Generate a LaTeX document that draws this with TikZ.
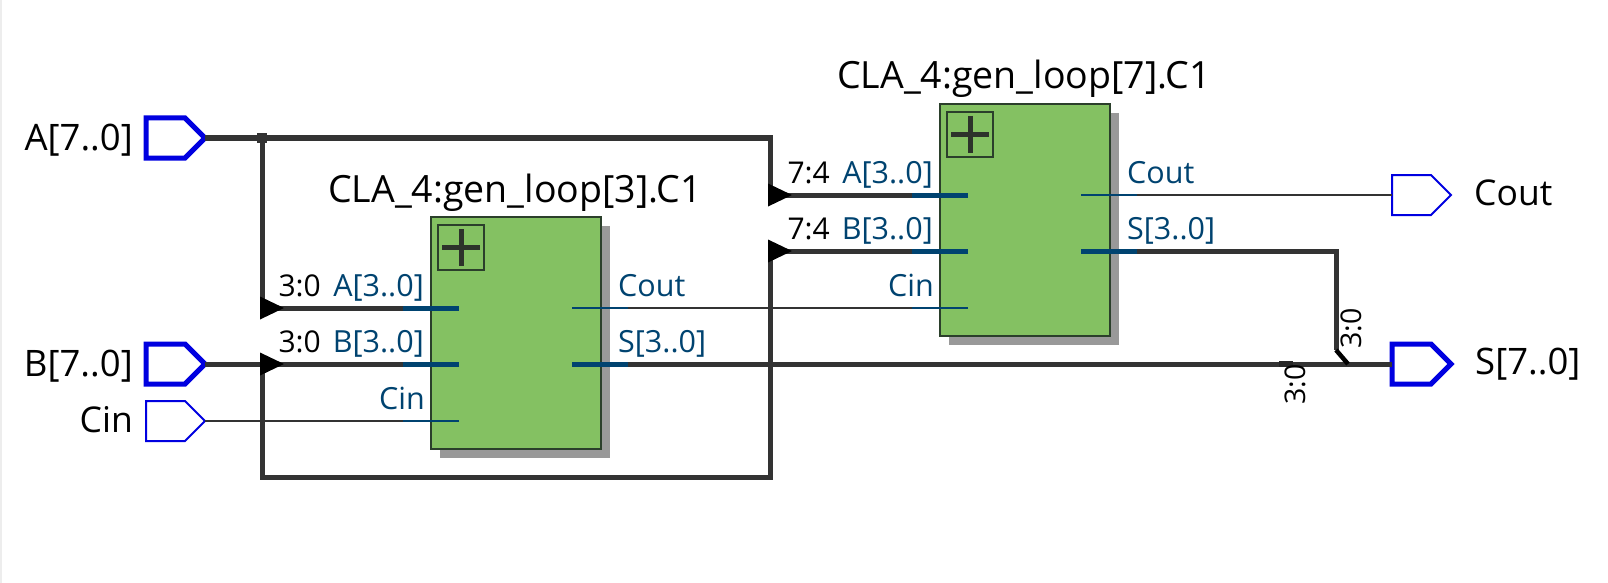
\documentclass[tikz,border=0pt]{standalone}
\usepackage{fontspec}
\setmainfont{Open Sans}
\usetikzlibrary{shapes.symbols}
\definecolor{wirecol}{HTML}{333333}
\definecolor{portcol}{HTML}{004370}
\definecolor{pincol}{HTML}{0000E0}
\definecolor{blockcol}{HTML}{84C162}
\definecolor{blockedge}{HTML}{2B3F2B}
\definecolor{pluscol}{HTML}{2D332B}
\tikzset{
  bus/.style={line width=5pt,color=wirecol},
  wire/.style={line width=2pt,color=wirecol},
  portbus/.style={line width=5pt,color=portcol},
  portwire/.style={line width=2pt,color=portcol},
  blockbox/.style={draw=blockedge,fill=blockcol,line width=2.2pt,minimum width=170pt,minimum height=232pt,inner sep=0pt,outer sep=0pt},
  pinthin/.style={shape=signal,signal to=east,signal pointer angle=90,draw=pincol,fill=white,line width=2pt,minimum width=59pt,minimum height=40pt,inner sep=0pt,outer sep=0pt},
  pinthick/.style={pinthin,line width=5pt},
  pinlabel/.style={font=\fontsize{36.5}{40}\selectfont,inner sep=0pt},
  titlelabel/.style={font=\fontsize{37.5}{40}\selectfont,inner sep=0pt},
  portlabel/.style={font=\fontsize{30.5}{34}\selectfont,text=portcol,inner sep=0pt},
  sizelabel/.style={font=\fontsize{30}{34}\selectfont,text=black,inner sep=0pt},
}
\begin{document}
\begin{tikzpicture}[x=1pt,y=-1pt]
  \useasboundingbox (0,0) rectangle (1608,583);
  \fill[black!7] (0,0) rectangle (2,583);
  % blocks
  \foreach \name/\x/\y/\n in {cone/516/333/3,ctwo/1025/220/7} {
    \fill[black!40] (\x-76,\y-107) rectangle (\x+94,\y+125);
    \node[blockbox] (\name) at (\x,\y) {};
    \node[titlelabel,anchor=base] (\name-title) at (\x-1,\y-131) {CLA\_4:gen\_loop[\n].C1};
    \draw[line width=2pt,color=blockedge] (\x-78,\y-108) rectangle (\x-32,\y-63);
    \draw[line width=5pt,color=pluscol] (\x-74,\y-85.5) -- (\x-36,\y-85.5);
    \draw[line width=5pt,color=pluscol] (\x-55,\y-104) -- (\x-55,\y-67);
    \node[portlabel,anchor=base east] (\name-a) at (\x-92,\y-37) {A[3..0]};
    \node[portlabel,anchor=base east] (\name-b) at (\x-92,\y+19) {B[3..0]};
    \node[portlabel,anchor=base east] (\name-c) at (\x-91,\y+76) {Cin};
    \node[portlabel,anchor=base west] (\name-o) at (\x+102,\y-37) {Cout};
    \node[portlabel,anchor=base west] (\name-s) at (\x+102,\y+19) {S[3..0]};
    \coordinate (\name-ain) at (\x-57,\y-25);
    \coordinate (\name-bin) at (\x-57,\y+31);
    \coordinate (\name-cin) at (\x-57,\y+88);
    \coordinate (\name-oout) at (\x+56,\y-25);
    \coordinate (\name-sout) at (\x+56,\y+31);
  }
  % pins
  \node[pinthick] (pina) at (165.5,138) {};
  \node[pinthick] (pinb) at (165.5,364) {};
  \node[pinthin] (pinc) at (165.5,421) {};
  \node[pinthin] (pino) at (1411.5,195) {};
  \node[pinthick] (pins) at (1411.5,364) {};
  \node[pinlabel,anchor=base east] (labela) at (133,150) {A[7..0]};
  \node[pinlabel,anchor=base east] (labelb) at (133,376) {B[7..0]};
  \node[pinlabel,font=\fontsize{35.5}{40}\selectfont,anchor=base east] (labelc) at (133,432) {Cin};
  \node[pinlabel,font=\fontsize{35.5}{40}\selectfont,anchor=base west] (labelo) at (1474,205) {Cout};
  \node[pinlabel,anchor=base west] (labels) at (1475,374) {S[7..0]};
  % busses
  \coordinate (forka) at (262,138);
  \coordinate (corna) at (770,138);
  \coordinate (cornl) at (262,477);
  \coordinate (cornr) at (770,477);
  \coordinate (joinb) at (770,251);
  \coordinate (joinu) at (262,364);
  \coordinate (bendt) at (1336,251);
  \coordinate (bendb) at (1336,350);
  \coordinate (merge) at (1348,364);
  \draw[bus] (pina.east) -- (corna) -- (770,195) -- (ctwo-ain);
  \draw[bus] (forka) -- (262,308) -- (cone-ain);
  \draw[bus] (pinb.east) -- (cone-bin);
  \draw[bus] (joinu) -- (cornl) -- (cornr) -- (joinb) -- (ctwo-bin);
  \draw[bus] (cone-sout) -- (pins.west);
  \draw[bus] (ctwo-sout) -- (bendt) -- (bendb);
  \draw[line width=4.5pt,color=black] (bendb) -- (merge);
  \draw[line width=5.5pt,color=black!85] (1279,364) -- (1293,364);
  % thin wires
  \draw[wire] (pinc.east) -- (cone-cin);
  \draw[wire] (cone-oout) -- (ctwo-cin);
  \draw[wire] (ctwo-oout) -- (pino.west);
  % ports on top of the wires
  \foreach \name in {cone,ctwo} {
    \draw[portbus] (\name-ain) -- ++(-56,0);
    \draw[portbus] (\name-bin) -- ++(-56,0);
    \draw[portwire] (\name-cin) -- ++(-56,0);
    \draw[portwire] (\name-oout) -- ++(56,0);
    \draw[portbus] (\name-sout) -- ++(56,0);
  }
  \fill[wirecol] (257,133) rectangle (267,143);
  \foreach \x/\y in {260/308,260/364,768/195,768/251} {
    \fill[black] (\x,\y-11.5) -- (\x+24,\y) -- (\x,\y+11.5) -- cycle;
  }
  % sizes
  \node[sizelabel,anchor=base east] (sizea) at (321,296) {3:0};
  \node[sizelabel,anchor=base east] (sizeb) at (321,352) {3:0};
  \node[sizelabel,anchor=base east] (sizec) at (830,183) {7:4};
  \node[sizelabel,anchor=base east] (sized) at (830,239) {7:4};
  \node[sizelabel,font=\fontsize{28.5}{34}\selectfont,anchor=base west,rotate=90] (sizee) at (1361,349) {3:0};
  \node[sizelabel,font=\fontsize{28.5}{34}\selectfont,anchor=base west,rotate=90] (sizef) at (1305,405) {3:0};
\end{tikzpicture}
\end{document}
